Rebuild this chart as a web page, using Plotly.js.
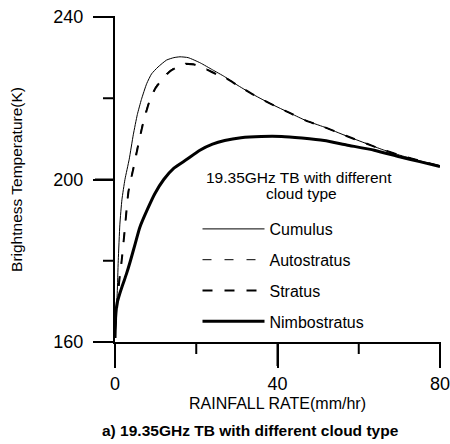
<!DOCTYPE html>
<html>
<head>
<meta charset="utf-8">
<script src="https://cdn.plot.ly/plotly-3.0.1.min.js"></script>
<style>
  html, body { margin: 0; padding: 0; background: #fff; }
  #chart { width: 450px; height: 444px; }
</style>
</head>
<body>
<div id="chart"></div>
<script>
// Brightness temperature at 19.35 GHz vs. rainfall rate, per cloud type
const cumulusRain = [0, 0.3, 0.55, 0.8, 1.2, 1.7, 2.45, 3.5, 4.5, 5.5, 6.5, 7.8, 9, 10.6, 12.7, 14.5, 16, 18, 21, 24, 27, 30, 33.5, 38, 43.4, 47, 51.5, 57, 62, 66, 70.4, 75, 80];
const cumulusTb   = [163, 167, 172, 180, 189, 195, 200, 205, 211, 216, 219.7, 223.6, 226, 227.7, 229.4, 230, 230.2, 230, 228.7, 227, 225.3, 223.3, 221.2, 218.8, 216.2, 214.5, 212.9, 210.7, 208.8, 207.3, 205.9, 204.6, 203.3];

const autostratusRain = [0, 0.3, 0.6, 1, 1.6, 2.4, 3.3, 4.5, 5.7, 7, 8.6, 10, 11.5, 13.5, 15.5, 17.2, 19.5, 22.5, 25, 27, 30, 33.5, 38, 43.4, 47, 51.5, 57, 62, 66, 70.4, 75, 80];
const autostratusTb   = [163, 166, 170, 175, 180, 188, 197.3, 203, 208.8, 214.6, 219.9, 222.8, 224.8, 226.8, 228, 228.6, 228.4, 227.2, 226, 225.2, 223.3, 221.2, 218.8, 216.2, 214.5, 212.9, 210.7, 208.8, 207.3, 205.9, 204.6, 203.3];

const stratusRain = [0, 0.3, 0.6, 1, 1.6, 2.4, 3.3, 4.5, 5.7, 7, 8.6, 10, 11.5, 13.5, 15.5, 17.2, 19.5, 22.5, 25, 27, 30, 33.5, 38, 43.4, 47, 51.5, 57, 62, 66, 70.4, 75, 80];
const stratusTb   = [163, 165.8, 169.6, 174.6, 179.6, 187.6, 196.9, 202.6, 208.4, 214.2, 219.6, 222.5, 224.6, 226.6, 227.8, 228.4, 228.3, 227.1, 225.9, 225.1, 223.3, 221.2, 218.8, 216.2, 214.5, 212.9, 210.7, 208.8, 207.3, 205.9, 204.6, 203.3];

const nimbostratusRain = [0, 0.15, 0.5, 1.2, 2, 2.8, 3.8, 5, 6.1, 8, 9.8, 12, 14.5, 17.6, 20.9, 24, 27, 31, 36, 41, 46, 51.5, 57, 63.8, 70, 75, 80];
const nimbostratusTb   = [161, 166, 169.5, 172, 174.4, 176.7, 180, 184.3, 188.2, 192.7, 196.5, 200, 202.8, 204.9, 207.2, 208.7, 209.6, 210.3, 210.6, 210.6, 210.2, 209.6, 208.5, 207.2, 205.6, 204.4, 203.2];

const xTickValues = [0, 40, 80];
const xMinorTickValues = [20, 60];
const yTickValues = [160, 200, 240];
const yMinorTickValues = [180, 220];

const FONT = 'Liberation Sans, Arial, sans-serif';

const traces = [
  { name: 'Cumulus', x: cumulusRain, y: cumulusTb, legendgroup: 'a',
    line: { color: '#000', width: 1, shape: 'spline', smoothing: 0.5 } },
  { name: 'Autostratus', x: autostratusRain, y: autostratusTb, legendgroup: 'b',
    line: { color: '#000', width: 1, dash: '9px,13px', shape: 'spline', smoothing: 0.5 } },
  { name: 'Stratus', x: stratusRain, y: stratusTb, legendgroup: 'c',
    line: { color: '#000', width: 2, dash: '10px,12px', shape: 'spline', smoothing: 0.5 } },
  { name: 'Nimbostratus', x: nimbostratusRain, y: nimbostratusTb, legendgroup: 'd',
    line: { color: '#000', width: 3, shape: 'spline', smoothing: 0.5 } }
].map(t => Object.assign({ type: 'scatter', mode: 'lines', hoverinfo: 'skip' }, t));

// plot box in pixels: x 115..440, y 17..342
const PX = { l: 115, r: 440, t: 17, b: 342 };
const W = PX.r - PX.l, H = PX.b - PX.t;
const px2x = p => (p - PX.l) / W;
const px2y = p => (PX.b - p) / H;

const xRange = [xTickValues[0], xTickValues[xTickValues.length - 1]];
const yRange = [yTickValues[0], yTickValues[yTickValues.length - 1]];
const xFrac = v => (v - xRange[0]) / (xRange[1] - xRange[0]);
const yFrac = v => (v - yRange[0]) / (yRange[1] - yRange[0]);

// tick marks hanging off the axis lines (long at labelled values, short between)
const tickLine = { color: '#000', width: 2 };
const tickShapes = [
  ...xTickValues.map(v => ({ len: 24, v, axis: 'x' })),
  ...xMinorTickValues.map(v => ({ len: 12, v, axis: 'x' })),
  ...yTickValues.map(v => ({ len: 20, v, axis: 'y' })),
  ...yMinorTickValues.map(v => ({ len: 12, v, axis: 'y' }))
].map(t => t.axis === 'x'
  ? { type: 'line', xref: 'paper', yref: 'paper', layer: 'above',
      x0: xFrac(t.v), x1: xFrac(t.v), y0: 0, y1: -t.len / H, line: tickLine }
  : { type: 'line', xref: 'paper', yref: 'paper', layer: 'above',
      x0: 0, x1: -t.len / W, y0: yFrac(t.v), y1: yFrac(t.v), line: tickLine });

const layout = {
  width: 450,
  height: 444,
  margin: { l: PX.l, r: 450 - PX.r, t: PX.t, b: 444 - PX.b },
  paper_bgcolor: '#fff',
  plot_bgcolor: '#fff',
  font: { family: FONT, color: '#000' },
  showlegend: true,
  legend: {
    x: px2x(197.5), xanchor: 'left',
    y: px2y(212), yanchor: 'top',
    bgcolor: 'rgba(0,0,0,0)',
    font: { family: FONT, size: 16, color: '#000' },
    itemwidth: 62,
    tracegroupgap: 7,
    traceorder: 'grouped'
  },
  xaxis: {
    range: xRange,
    tickmode: 'array',
    tickvals: xTickValues,
    ticktext: xTickValues.map(String),
    ticks: 'outside', ticklen: 24, tickwidth: 2, tickcolor: '#000',
    showline: true, linewidth: 2, linecolor: '#000',
    showgrid: false, zeroline: false,
    tickfont: { family: FONT, size: 18 },
    ticklabeloverflow: 'allow',
    title: { text: 'RAINFALL RATE(mm/hr)', font: { family: FONT, size: 16 }, standoff: 5 }
  },
  yaxis: {
    range: yRange,
    tickmode: 'array',
    tickvals: yTickValues,
    ticktext: yTickValues.map(String),
    ticks: 'outside', ticklen: 20, tickwidth: 2, tickcolor: '#000',
    showline: true, linewidth: 2, linecolor: '#000',
    showgrid: false, zeroline: false,
    tickfont: { family: FONT, size: 18 },
    ticklabeloverflow: 'allow',
    ticklabelstandoff: 6,
    title: { text: 'Brightness Temperature(K)', font: { family: FONT, size: 15.5 }, standoff: 27 }
  },
  shapes: tickShapes,
  annotations: [
    { xref: 'paper', yref: 'paper', x: px2x(299), y: px2y(177),
      xanchor: 'center', yanchor: 'middle', showarrow: false,
      text: '19.35GHz TB with different', font: { family: FONT, size: 15.5 } },
    { xref: 'paper', yref: 'paper', x: px2x(301), y: px2y(193),
      xanchor: 'center', yanchor: 'middle', showarrow: false,
      text: 'cloud type', font: { family: FONT, size: 15.5 } },
    { xref: 'paper', yref: 'paper', x: px2x(250), y: px2y(430),
      xanchor: 'center', yanchor: 'middle', showarrow: false,
      text: '<b>a) 19.35GHz TB with different cloud type</b>', font: { family: FONT, size: 15.5 } }
  ]
};

Plotly.newPlot('chart', traces, layout, { displayModeBar: false, staticPlot: true });
</script>
</body>
</html>
